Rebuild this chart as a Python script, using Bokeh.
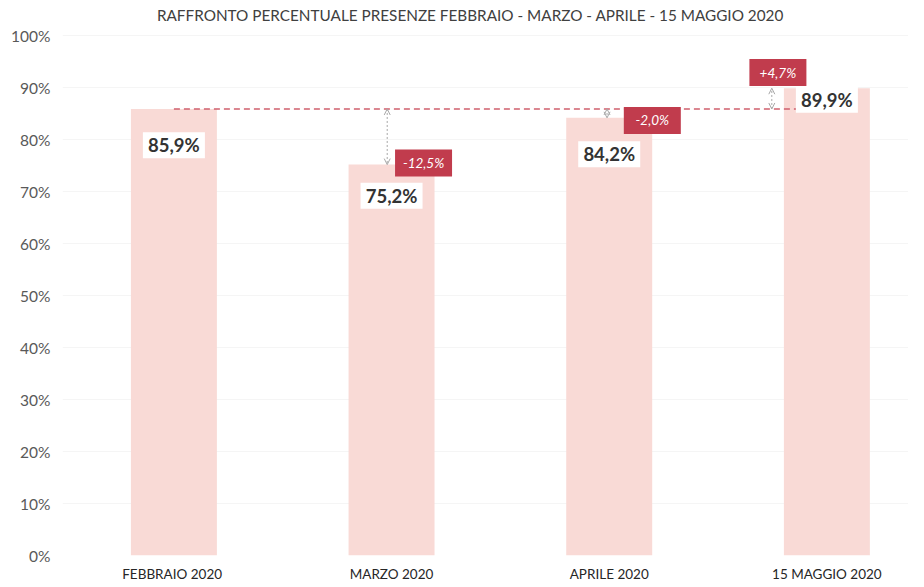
from bokeh.plotting import figure
from bokeh.models import (ColumnDataSource, Arrow, OpenHead,
                          FixedTicker, PrintfTickFormatter, Range1d)
from bokeh.core.properties import value
from bokeh.embed import file_html
from bokeh.resources import INLINE

# ---- data ----
categories = ["FEBBRAIO  2020", "MARZO 2020", "APRILE 2020", "15 MAGGIO 2020"]
values = [85.9, 75.2, 84.2, 89.9]          # % presenze
y_ticks = [0, 10, 20, 30, 40, 50, 60, 70, 80, 90, 100]
title = "RAFFRONTO PERCENTUALE PRESENZE FEBBRAIO - MARZO - APRILE - 15 MAGGIO 2020"

FONT = "Lato"
BAR = "#f9dad6"
RED = "#c13c4d"

def fmt(v, sign=False):
    s = f"{v:+.1f}" if sign else f"{v:.1f}"
    return s.replace(".", ",") + "%"

xs = list(range(len(categories)))
base = values[0]
deltas = [(v / base - 1) * 100 for v in values]

p = figure(width=908, height=584, output_backend="svg", toolbar_location=None,
           x_range=Range1d(-0.5118, 3.375), y_range=Range1d(0, 106),
           min_border_left=62, min_border_right=0, min_border_top=4,
           min_border_bottom=0, outline_line_color=None)

p.vbar(x=xs, top=values, width=0.395, fill_color=BAR, line_color=None)

# title drawn inside the top margin of the frame
p.text(x=[-0.078], y=[104.05], text=[title], text_align="left",
       text_baseline="middle", text_font=value(FONT), text_font_size="15.3px",
       text_color="#404040")

# axes
p.xaxis.ticker = FixedTicker(ticks=xs)
p.xaxis.major_label_overrides = {i: c for i, c in zip(xs, categories)}
p.xaxis.major_label_text_font = FONT
p.xaxis.major_label_text_font_size = "13.5px"
p.xaxis.major_label_text_color = "#262626"
p.xaxis.major_label_standoff = 10
p.xaxis.axis_line_color = None
p.xaxis.major_tick_line_color = None
p.xaxis.minor_tick_line_color = None
p.xaxis.major_tick_out = 0
p.xaxis.major_tick_in = 0

p.yaxis.ticker = FixedTicker(ticks=y_ticks)
p.yaxis.formatter = PrintfTickFormatter(format="%d%%")
p.yaxis.major_label_text_font = FONT
p.yaxis.major_label_text_font_size = "15.5px"
p.yaxis.major_label_text_color = "#595959"
p.yaxis.major_label_standoff = 12
p.yaxis.axis_line_color = None
p.yaxis.major_tick_line_color = None
p.yaxis.minor_tick_line_color = None
p.yaxis.major_tick_out = 0
p.yaxis.major_tick_in = 0

p.xgrid.grid_line_color = None
p.ygrid.grid_line_color = "#f5f5f5"

# dashed reference line at February level (from Feb to last bar)
p.line(x=[xs[0], xs[-1]], y=[base, base], line_color="#d0606e",
       line_dash="6 4", line_width=1.3)

# dotted arrows (layout offsets, in x units relative to bar center)
arrow_dx = [None, -0.02, -0.01, -0.253]
for i in range(1, len(values)):
    x = xs[i] + arrow_dx[i]
    p.add_layout(Arrow(x_start=x, y_start=base, x_end=x, y_end=values[i],
                       line_color="#a8a8a8", line_dash="2 2", line_width=1,
                       start=OpenHead(size=6, line_color="#a8a8a8", line_width=1),
                       end=OpenHead(size=6, line_color="#a8a8a8", line_width=1)))

# value labels (white boxes)
label_dy = [-7.0, -6.0, -7.0, -2.2]
lab_src = ColumnDataSource(dict(
    x=xs, y=[v + d for v, d in zip(values, label_dy)],
    t=[fmt(v) for v in values]))
p.rect(x="x", y="y", width=62, height=26, width_units="screen",
       height_units="screen", source=lab_src, fill_color="white",
       line_color=None)
p.text(x="x", y="y", text="t", source=lab_src, text_align="center",
       text_baseline="middle", text_font=value(FONT), text_font_size="18.5px",
       text_font_style="bold", text_color="#333333")

# delta badges
badge_dx = [0.147, 0.198, -0.225]
badge_y = [75.5, 83.7, 92.9]
b_src = ColumnDataSource(dict(
    x=[xs[i] + badge_dx[i - 1] for i in range(1, len(values))],
    y=badge_y,
    t=[fmt(d, sign=(d > 0)) for d in deltas[1:]]))
p.rect(x="x", y="y", width=57, height=27, width_units="screen",
       height_units="screen", source=b_src, fill_color=RED, line_color=None)
p.text(x="x", y="y", text="t", source=b_src, text_align="center",
       text_baseline="middle", text_font=value(FONT), text_font_size="13.5px",
       text_font_style="italic", text_color="white")

open("out.html", "w").write(file_html(p, INLINE))
